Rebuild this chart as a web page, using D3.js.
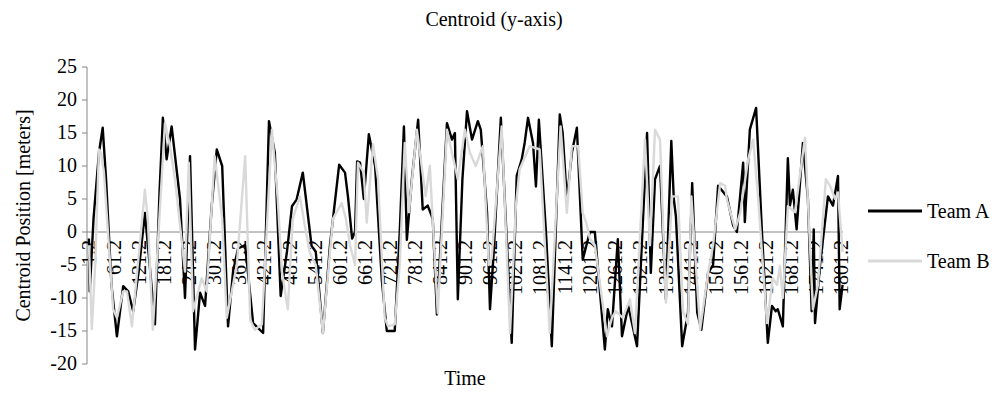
<!DOCTYPE html>
<html>
<head>
<meta charset="utf-8">
<script src="https://cdn.jsdelivr.net/npm/d3@7"></script>
</head>
<body style="margin:0">
<svg id="chart" width="995" height="393"></svg>
<script>
// category labels on the time axis
const timeTicks = [1.2, 61.2, 121.2, 181.2, 241.2, 301.2, 361.2, 421.2, 481.2, 541.2,
  601.2, 661.2, 721.2, 781.2, 841.2, 901.2, 961.2, 1021.2, 1081.2, 1141.2,
  1201.2, 1261.2, 1321.2, 1381.2, 1441.2, 1501.2, 1561.2, 1621.2, 1681.2, 1741.2, 1801.2];
const yTicks = [-20, -15, -10, -5, 0, 5, 10, 15, 20, 25];

// [time, centroid y]
const teamA = [
  [1, -1], [3, -9], [12, 2], [25, 12], [34, 15.8], [42, 8], [55, -8], [68, -15.8], [83, -8.2], [95, -9],
  [107, -12], [120, -6], [135, 2.9], [145, -4], [159, -14], [170, 6], [178, 17.3], [187, 11], [199, 16],
  [219, 5], [231, -10], [243, 11.5], [255, -17.8], [267, -9.2], [279, -11.2], [295, 4], [307, 12.5],
  [320, 10], [334, -14.3], [346, -6], [358, -2.5], [375, -2], [394, -13.8], [418, -15.3], [432, 16.8],
  [446, 12], [460, -9.7], [475, -3], [487, 3.9], [498, 4.9], [513, 9], [534, -2.1], [544, -3],
  [561, -15.3], [578, -2], [600, 10.2], [614, 9], [621, 5.4], [631, -1], [638, 0], [643, 10.7],
  [650, 10.5], [659, 5], [671, 14.8], [686, 10], [702, -7.2], [714, -15], [733, -15], [745, 0],
  [755, 16], [762, -1.2], [774, 8], [789, 17], [800, 3.4], [812, 4], [824, 2], [834, -12.5],
  [858, 16.5], [870, 14], [877, 15], [884, -10.2], [895, 8], [906, 18.3], [918, 14], [932, 16.8],
  [939, 15.5], [954, 2.9], [961, -11.7], [970, -3], [987, 17.3], [1013, -16.8], [1025, 8.5],
  [1037, 11], [1044, 13.5], [1052, 17.3], [1064, 13.5], [1071, 6.9], [1078, 17], [1095, 0],
  [1109, -17.3], [1128, 17.8], [1135, 15], [1145, 4.9], [1157, 12], [1169, 15.8], [1183, -4.2],
  [1200, 0], [1212, 0], [1236, -17.8], [1243, -11.7], [1253, -14.3], [1267, -1.1], [1277, -15.8],
  [1292, -11.2], [1313, -17.3], [1337, 15], [1346, -6.2], [1356, 8], [1368, 10], [1382, -10.2],
  [1395, 13.8], [1401, 5], [1406, 2.4], [1421, -17.3], [1435, -12.2], [1445, 7.4], [1457, -12.2],
  [1467, -14.8], [1483, -6.2], [1495, -5], [1507, 7], [1528, 5.4], [1543, 1], [1552, 0],
  [1567, 10.5], [1571, 1.5], [1583, 15.5], [1598, 18.8], [1612, 0], [1626, -16.8], [1636, -11.2],
  [1645, -12], [1650, -11.7], [1662, -14.3], [1674, 11.2], [1679, 4], [1686, 6.4], [1695, 0.4],
  [1710, 13.5], [1722, 5], [1731, -12], [1736, 0.4], [1739, -13.8], [1751, -5], [1770, 5.4],
  [1782, 4], [1794, 8.5], [1798, -11.7], [1805, -8]
];
const teamB = [
  [1, -2], [8, -14.7], [16, -5], [25, 12.5], [30, 12], [37, 9], [59, -11.7], [68, -13], [83, -9],
  [92, -9], [104, -14.3], [135, 6.4], [142, 2], [154, -14.8], [183, 16.5], [195, 13], [207, 8],
  [231, -6], [240, 10.5], [250, -12], [271, -7], [283, -9], [302, 11.5], [320, 2], [331, -13],
  [355, -5], [375, 11.5], [387, -13.3], [398, -14.8], [415, -14], [439, 15.5], [453, 5], [463, -6],
  [477, -11.7], [489, 2], [506, 5.4], [518, 0.9], [530, -3.2], [544, -5], [561, -15.3], [585, 2],
  [606, 4.4], [616, 2], [626, -2], [638, -5], [645, 10.5], [659, 9], [666, 1.4], [681, 13.3],
  [693, 8], [709, -13], [717, -14.3], [733, -14], [745, -5], [757, 13.5], [767, 3], [786, 15.5],
  [807, 5.4], [817, 10], [836, -12.3], [858, 15.5], [870, 12], [884, 8], [901, 15.5], [913, 12],
  [927, 10], [944, 13], [958, -5], [965, -4], [989, 16], [1009, -15.3], [1023, 4], [1032, 9.5],
  [1056, 13], [1080, 12.5], [1104, -15.3], [1130, 16], [1145, 2.9], [1157, 13], [1172, 13],
  [1183, 2.9], [1191, 1.5], [1200, -1], [1212, -2], [1241, -15.8], [1253, -13], [1262, -12],
  [1279, -13], [1296, -10.2], [1308, -15.3], [1332, 14], [1344, -2], [1356, 15.5], [1368, 14],
  [1382, -10.7], [1397, 5.4], [1411, 5.4], [1423, -12], [1435, -14], [1443, 5.4], [1464, -14.8],
  [1483, -6.2], [1495, -2], [1512, 7.4], [1524, 7], [1528, 4.9], [1548, 0.4], [1560, 2.9],
  [1579, 11], [1591, 14], [1603, 5], [1624, -13.8], [1638, -7], [1648, -8], [1655, -5.2],
  [1662, -10], [1674, 3.9], [1691, 3], [1715, 14.3], [1734, -11.7], [1746, -8], [1765, 8],
  [1775, 7], [1787, 5], [1794, 6], [1805, -3]
];

const FONT = 'Times New Roman';
const svg = d3.select('#chart');

function serif(sel) {
  return sel.style('font-family', FONT).style('font-size', '20px').attr('fill', '#000');
}

// titles first
serif(svg.append('text')).attr('x', 494).attr('y', 26).attr('text-anchor', 'middle')
  .text('Centroid (y-axis)');
serif(svg.append('text')).attr('x', 465).attr('y', 385).attr('text-anchor', 'middle')
  .text('Time');
serif(svg.append('text')).attr('transform', 'translate(30,215.5) rotate(-90)')
  .attr('text-anchor', 'middle').text('Centroid Position [meters]');

const x = d3.scaleLinear().domain([-3.6, 1806]).range([87, 843]);
const y = d3.scaleLinear().domain([-20, 25]).range([364, 67]);
const axisColor = '#868686';

// y axis, labels built by hand so no sans-serif group font is inherited
const yAxis = svg.append('g').attr('transform', 'translate(87,0)');
yAxis.append('line').attr('y1', y(-20)).attr('y2', y(25)).attr('stroke', axisColor);
yTicks.forEach(v => {
  yAxis.append('line').attr('x1', -5).attr('x2', 0).attr('y1', y(v)).attr('y2', y(v))
    .attr('stroke', axisColor);
  serif(yAxis.append('text')).attr('x', -10).attr('y', y(v)).attr('dy', '0.32em')
    .attr('text-anchor', 'end').text(v);
});

// category axis on zero
const xAxis = svg.append('g').attr('transform', `translate(0,${y(0)})`);
xAxis.append('line').attr('x1', x.range()[0]).attr('x2', x.range()[1]).attr('stroke', axisColor);
timeTicks.forEach(t => {
  serif(xAxis.append('text'))
    .attr('transform', `translate(${x(t)},0) rotate(-90)`)
    .attr('text-anchor', 'end').attr('x', -8).attr('dy', '0.35em')
    .text(d3.format('.1f')(t));
});

// series, Team B drawn over Team A
const line = d3.line().x(d => x(d[0])).y(d => y(d[1]));
svg.append('path').datum(teamA)
  .attr('fill', 'none').attr('stroke', '#000').attr('stroke-width', 2.4)
  .attr('stroke-linejoin', 'round').attr('d', line);
svg.append('path').datum(teamB)
  .attr('fill', 'none').attr('stroke', '#d9d9d9').attr('stroke-width', 2.4)
  .attr('stroke-linejoin', 'round').attr('d', line);

// legend
const legendNames = ['Team A', 'Team B'];
const legendColors = ['#000', '#d9d9d9'];
legendNames.forEach((name, i) => {
  const ly = 211 + i * 50;
  svg.append('line').attr('x1', 868).attr('x2', 922).attr('y1', ly).attr('y2', ly)
    .attr('stroke', legendColors[i]).attr('stroke-width', 3);
  serif(svg.append('text')).attr('x', 927).attr('y', ly).attr('dy', '0.35em').text(name);
});
</script>
</body>
</html>
